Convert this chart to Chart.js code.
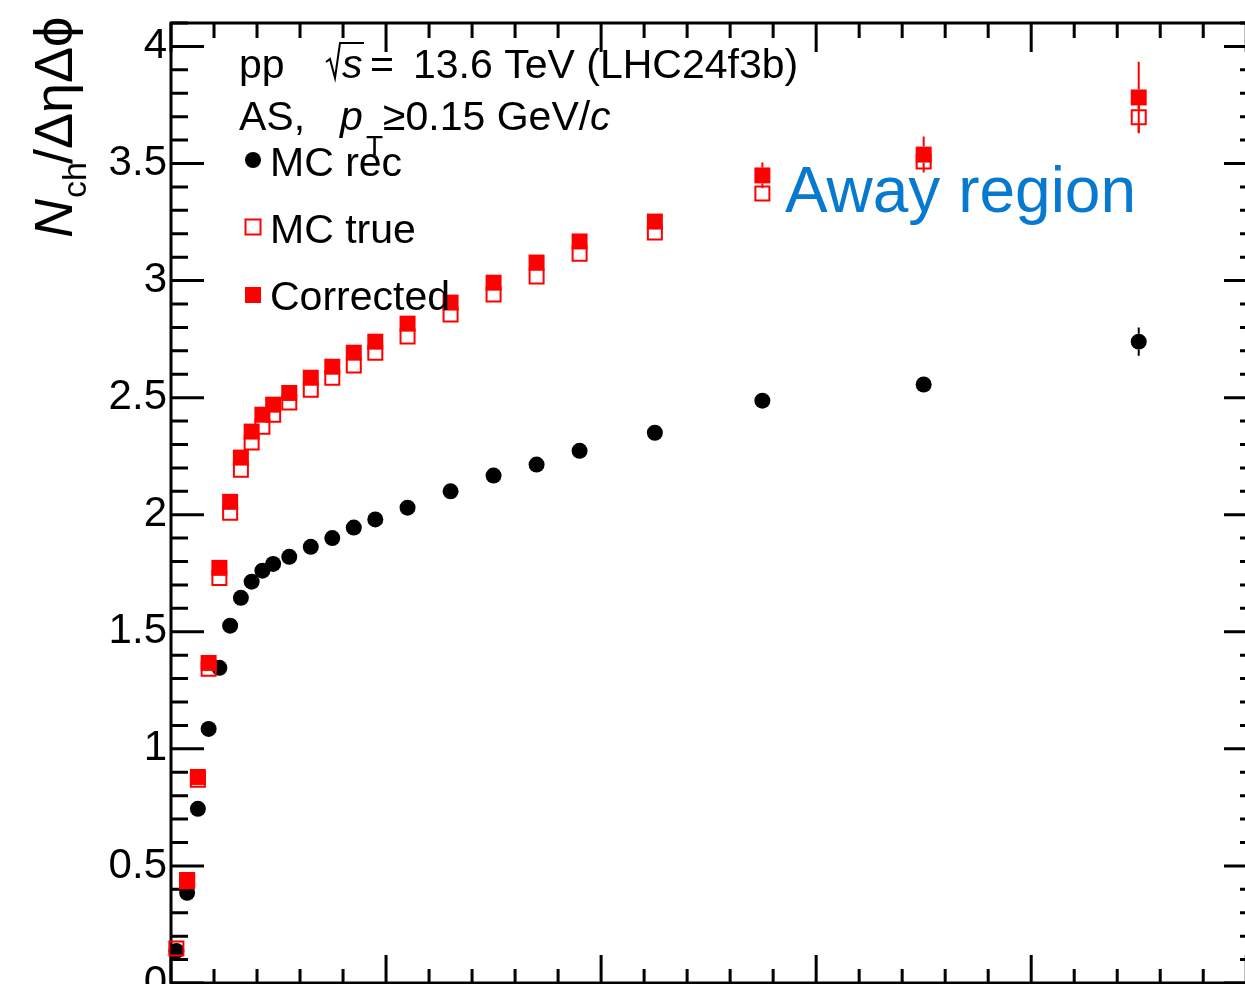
<!DOCTYPE html>
<html>
<head>
<meta charset="utf-8">
<script src="https://cdn.jsdelivr.net/npm/chart.js@4.4.1/dist/chart.umd.min.js"></script>
<style>
  html, body { margin: 0; padding: 0; overflow: hidden; background: #fff; }
</style>
</head>
<body>
<canvas id="nchChart" width="1275" height="1044"></canvas>
<script>
// DATA
const xCenters = [0.25, 0.75, 1.25, 1.75, 2.25, 2.75, 3.25, 3.75, 4.25, 4.75,
  5.5, 6.5, 7.5, 8.5, 9.5, 11, 13, 15, 17, 19, 22.5, 27.5, 35, 45];

const mcRec = [0.137, 0.385, 0.744, 1.085, 1.346, 1.526, 1.645, 1.714, 1.761, 1.79,
  1.82, 1.863, 1.9, 1.945, 1.98, 2.03, 2.1, 2.167, 2.214, 2.273, 2.35, 2.487, 2.556, 2.739];
const mcRecErr = [0, 0, 0, 0, 0, 0, 0, 0, 0, 0,
  0, 0, 0, 0, 0, 0.002, 0.003, 0.004, 0.005, 0.006, 0.008, 0.012, 0.02, 0.06];

const mcTrue = [0.147, 0.435, 0.868, 1.342, 1.73, 2.008, 2.192, 2.308, 2.376, 2.427,
  2.479, 2.534, 2.585, 2.637, 2.692, 2.761, 2.855, 2.94, 3.017, 3.115, 3.205, 3.372, 3.509, 3.697];
const mcTrueErr = [0, 0, 0, 0, 0, 0, 0, 0, 0, 0,
  0, 0, 0, 0, 0, 0.002, 0.003, 0.004, 0.005, 0.006, 0.008, 0.02, 0.03, 0.065];

const corrected = [null, 0.44, 0.88, 1.367, 1.773, 2.055, 2.244, 2.355, 2.427, 2.47,
  2.52, 2.585, 2.632, 2.692, 2.739, 2.816, 2.906, 2.991, 3.077, 3.167, 3.252, 3.449, 3.538, 3.782];
const correctedErr = [0, 0, 0, 0, 0, 0, 0, 0, 0, 0,
  0, 0, 0, 0, 0, 0.003, 0.004, 0.005, 0.007, 0.01, 0.025, 0.055, 0.077, 0.153];

const yTicks = [0, 0.5, 1, 1.5, 2, 2.5, 3, 3.5, 4];
const yTickLabels = ["0", "0.5", "1", "1.5", "2", "2.5", "3", "3.5", "4"];

// COLORS / FONTS
const red = "#ff0000";
const black = "#000000";
const blue = "#0779cf";
const FONT = "'Liberation Sans', Arial, Helvetica, sans-serif";

function toPoints(ys) {
  return xCenters.map((x, i) => ({ x: x, y: ys[i] }));
}

// error bars, drawn outside the marker like ROOT does
const errorBars = {
  id: "errorBars",
  beforeDatasetsDraw(chart) {
    const ctx = chart.ctx;
    const xs = chart.scales.x;
    const ys = chart.scales.y;
    const sets = [
      [mcRec, mcRecErr, black],
      [mcTrue, mcTrueErr, red],
      [corrected, correctedErr, red],
    ];
    const gap = 8;
    ctx.save();
    ctx.lineWidth = 2;
    sets.forEach(([vals, errs, color]) => {
      ctx.strokeStyle = color;
      vals.forEach((v, i) => {
        if (v === null || !errs[i]) return;
        const px = xs.getPixelForValue(xCenters[i]);
        const py = ys.getPixelForValue(v);
        const top = ys.getPixelForValue(v + errs[i]);
        const bot = ys.getPixelForValue(v - errs[i]);
        ctx.beginPath();
        if (top < py - gap) { ctx.moveTo(px, top); ctx.lineTo(px, py - gap); }
        if (bot > py + gap) { ctx.moveTo(px, py + gap); ctx.lineTo(px, bot); }
        ctx.stroke();
      });
    });
    ctx.restore();
  },
};

// frame with inward ticks on all four sides
const rootFrame = {
  id: "rootFrame",
  beforeDatasetsDraw(chart) {
    const ctx = chart.ctx;
    const a = chart.chartArea;
    const xs = chart.scales.x;
    const ys = chart.scales.y;
    ctx.save();
    ctx.strokeStyle = black;
    ctx.lineWidth = 3;
    ctx.strokeRect(a.left, a.top, a.right - a.left, a.bottom - a.top);
    ctx.beginPath();
    for (let i = 0; i <= 25; i++) {
      const v = i * 2;
      const px = xs.getPixelForValue(v);
      const major = v % 10 === 0;
      ctx.moveTo(px, a.bottom);
      ctx.lineTo(px, a.bottom - (major ? 28 : 14));
      ctx.moveTo(px, a.top);
      ctx.lineTo(px, a.top + (major ? 29 : 15));
    }
    for (let i = 0; i <= 41; i++) {
      const py = ys.getPixelForValue(i / 10);
      const major = i % 5 === 0;
      ctx.moveTo(a.left, py);
      ctx.lineTo(a.left + (major ? 33 : 17), py);
      ctx.moveTo(a.right, py);
      ctx.lineTo(a.right - (major ? 33 : 17), py);
    }
    ctx.stroke();
    ctx.restore();
  },
};

// texts, legend and axis title
const annotations = {
  id: "annotations",
  afterDraw(chart) {
    const ctx = chart.ctx;
    ctx.save();
    ctx.fillStyle = black;
    ctx.textAlign = "left";
    ctx.textBaseline = "alphabetic";

    // line 1
    ctx.font = "41px " + FONT;
    ctx.fillText("pp", 239, 78);
    ctx.strokeStyle = black;
    ctx.lineWidth = 2;
    ctx.beginPath();
    ctx.moveTo(326, 62);
    ctx.lineTo(330, 59);
    ctx.lineTo(335, 78);
    ctx.lineTo(340, 43);
    ctx.lineTo(364, 43);
    ctx.stroke();
    ctx.font = "italic 41px " + FONT;
    ctx.fillText("s", 342, 78);
    ctx.font = "41px " + FONT;
    ctx.fillText("=", 370, 78);
    ctx.fillText("13.6 TeV (LHC24f3b)", 413, 78);

    // line 2
    ctx.fillText("AS,", 239, 130);
    ctx.font = "italic 41px " + FONT;
    ctx.fillText("p", 340, 130);
    ctx.font = "28px " + FONT;
    ctx.fillText("T", 366, 155);
    ctx.font = "41px " + FONT;
    const part = "\u22650.15 GeV/";
    ctx.fillText(part, 383, 130);
    const pw = ctx.measureText(part).width;
    ctx.font = "italic 41px " + FONT;
    ctx.fillText("c", 383 + pw, 130);

    // legend
    ctx.beginPath();
    ctx.arc(253, 160, 8, 0, Math.PI * 2);
    ctx.fill();
    ctx.strokeStyle = red;
    ctx.lineWidth = 2;
    ctx.strokeRect(253 - 7.5, 227 - 7.5, 15, 15);
    ctx.fillStyle = red;
    ctx.fillRect(253 - 8, 295 - 8, 16, 16);
    ctx.fillStyle = black;
    ctx.font = "41px " + FONT;
    ctx.fillText("MC rec", 270, 176);
    ctx.fillText("MC true", 270, 243);
    ctx.fillText("Corrected", 270, 310);

    // region label
    ctx.fillStyle = blue;
    ctx.font = "64px " + FONT;
    ctx.fillText("Away region", 785, 212);

    // y axis title
    ctx.fillStyle = black;
    ctx.translate(72, 238);
    ctx.rotate(-Math.PI / 2);
    ctx.font = "italic 54px " + FONT;
    ctx.fillText("N", 0, 0);
    let off = ctx.measureText("N").width + 1;
    ctx.font = "34px " + FONT;
    ctx.fillText("ch", off, 14);
    off += ctx.measureText("ch").width;
    ctx.font = "54px " + FONT;
    ctx.fillText("/\u0394\u03b7\u0394\u03d5", off - 2, 0);
    ctx.restore();
  },
};

const ctx = document.getElementById("nchChart").getContext("2d");

new Chart(ctx, {
  type: "scatter",
  data: {
    datasets: [
      {
        label: "Corrected",
        data: toPoints(corrected),
        pointStyle: "rect",
        pointRadius: 11.3,
        pointHoverRadius: 11.3,
        backgroundColor: red,
        borderColor: red,
        borderWidth: 0,
        clip: false,
      },
      {
        label: "MC true",
        data: toPoints(mcTrue),
        pointStyle: "rect",
        pointRadius: 9.9,
        pointHoverRadius: 9.9,
        backgroundColor: "rgba(0, 0, 0, 0)",
        borderColor: red,
        borderWidth: 2,
        clip: false,
      },
      {
        label: "MC rec",
        data: toPoints(mcRec),
        pointStyle: "circle",
        pointRadius: 8,
        pointHoverRadius: 8,
        backgroundColor: black,
        borderColor: black,
        borderWidth: 0,
        clip: false,
      },
    ],
  },
  options: {
    responsive: false,
    animation: false,
    devicePixelRatio: 1,
    layout: { padding: { top: 23, right: 18, left: 0, bottom: 0 } },
    scales: {
      x: {
        type: "linear",
        min: 0,
        max: 50.5,
        grid: { display: false, drawTicks: false },
        border: { display: false },
        ticks: { display: false },
        afterFit: (s) => {
          s.height = 61;
          s.paddingLeft = 0;
          s.paddingRight = 0;
        },
      },
      y: {
        type: "linear",
        min: 0,
        max: 4.1,
        grid: { display: false, drawTicks: false },
        border: { display: false },
        afterBuildTicks: (s) => { s.ticks = yTicks.map((v) => ({ value: v })); },
        afterFit: (s) => {
          s.width = 171;
          s.paddingTop = 0;
          s.paddingBottom = 0;
        },
        ticks: {
          color: black,
          padding: 4,
          font: { family: FONT, size: 42 },
          callback: (v) => yTickLabels[yTicks.indexOf(v)],
        },
      },
    },
    plugins: {
      legend: { display: false },
      tooltip: { enabled: false },
    },
  },
  plugins: [rootFrame, errorBars, annotations],
});
</script>
</body>
</html>
